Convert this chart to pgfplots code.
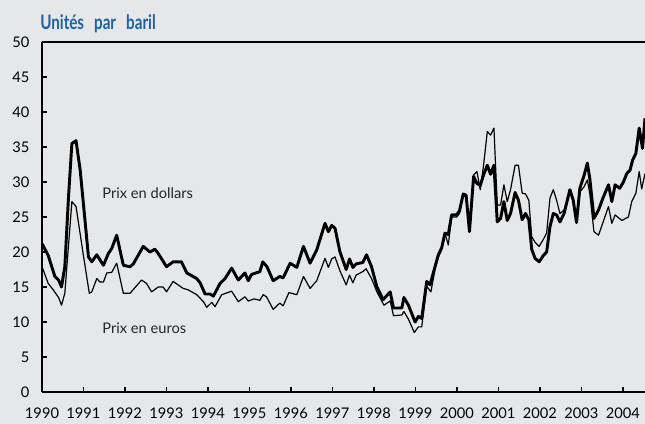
\documentclass[border=0pt]{standalone}
\usepackage{fontspec}
\setmainfont{Lato}
\newfontfamily\titlefont[FakeStretch=0.76]{Lato}
\usepackage{pgfplots}
\pgfplotsset{compat=1.18}
\definecolor{bg}{RGB}{230,231,233}
\definecolor{titleblue}{RGB}{30,98,165}
\begin{document}
\begin{tikzpicture}
\fill[bg] (-31.5pt,-24pt) rectangle (452.25pt,294pt);
\begin{axis}[
  name=ax,
  at={(0,0)}, anchor=south west,
  scale only axis, width=452.25pt, height=262.5pt,
  xmin=1990, xmax=2004.53, ymin=0, ymax=50,
  axis x line*=bottom, axis y line*=left,
  axis line style={line width=1.5pt,-},
  xtick={1990,...,2004}, ytick={0,5,...,50},
  xticklabel style={/pgf/number format/1000 sep={}, yshift=-8pt},
  yticklabel style={xshift=-6pt},
  /pgf/number format/assume math mode=true,
  tick style={black, line width=1pt},
  major tick length=4pt,
  tick align=inside,
  ticklabel style={font=\fontsize{11}{13}\selectfont},
  clip mode=individual,
]
\addplot[black, line width=2.2pt, line join=round] coordinates {
(1990.00,21.2)(1990.15,19.5)(1990.31,16.5)(1990.40,16.0)(1990.47,15.0)(1990.55,17.9)(1990.64,28.0)(1990.72,35.5)(1990.82,35.9)(1990.92,31.7)
(1991.12,19.3)(1991.20,18.6)(1991.32,19.6)(1991.48,18.1)(1991.60,19.8)(1991.68,20.5)(1991.80,22.4)(1991.96,18.1)
(1992.12,17.9)(1992.20,18.3)(1992.44,20.8)(1992.60,20.0)(1992.72,20.4)(1992.80,19.8)
(1993.00,17.9)(1993.16,18.6)(1993.36,18.6)(1993.49,17.0)(1993.73,16.2)(1993.81,15.6)(1993.93,14.0)
(1994.05,14.0)(1994.13,13.7)(1994.29,15.5)(1994.41,16.2)(1994.57,17.7)(1994.73,16.0)(1994.89,17.0)(1994.97,15.9)
(1995.05,16.8)(1995.25,17.2)(1995.32,18.6)(1995.42,17.9)(1995.57,15.9)(1995.73,16.5)(1995.81,16.3)(1995.98,18.4)
(1996.14,17.8)(1996.30,20.8)(1996.46,18.4)(1996.62,20.3)(1996.72,22.2)(1996.82,24.1)(1996.90,22.9)(1996.98,23.8)
(1997.06,23.4)(1997.18,20.0)(1997.33,17.5)(1997.41,19.0)(1997.49,17.8)(1997.57,18.3)(1997.73,18.5)(1997.82,19.6)(1997.94,17.9)
(1998.07,15.0)(1998.22,13.2)(1998.39,14.3)(1998.47,12.0)(1998.67,12.0)(1998.72,13.5)(1998.83,12.4)(1998.99,10.0)
(1999.07,10.8)(1999.15,10.5)(1999.27,15.8)(1999.35,15.3)(1999.47,17.9)(1999.55,19.6)(1999.63,20.6)(1999.71,22.7)(1999.79,22.5)(1999.87,25.3)(1999.99,25.3)
(2000.06,25.9)(2000.15,28.3)(2000.22,28.1)(2000.30,22.9)(2000.40,30.8)(2000.48,29.8)(2000.56,29.5)(2000.64,31.0)(2000.73,32.4)(2000.81,31.1)(2000.89,32.4)(2000.97,24.3)
(2001.05,24.8)(2001.13,27.2)(2001.21,24.5)(2001.29,25.5)(2001.40,28.5)(2001.48,27.4)(2001.57,24.6)(2001.65,25.5)(2001.73,24.6)(2001.80,20.4)(2001.88,19.1)(2001.98,18.6)
(2002.08,19.5)(2002.16,20.0)(2002.24,23.6)(2002.32,25.5)(2002.40,25.3)(2002.48,24.3)(2002.58,25.5)(2002.72,28.9)(2002.80,27.4)(2002.88,24.2)(2002.96,29.1)
(2003.06,30.9)(2003.14,32.7)(2003.20,30.5)(2003.30,24.8)(2003.41,26.0)(2003.51,27.6)(2003.65,29.6)(2003.73,27.2)(2003.81,29.6)(2003.92,29.1)
(2004.01,30.0)(2004.09,31.2)(2004.17,31.7)(2004.23,33.1)(2004.31,34.1)(2004.39,37.7)(2004.47,34.8)(2004.53,39.1)
};
\addplot[black, line width=0.9pt, line join=round] coordinates {
(1990.00,17.9)(1990.15,15.5)(1990.27,14.6)(1990.40,13.5)(1990.47,12.4)(1990.55,14.1)(1990.72,27.2)(1990.82,26.5)(1990.99,19.8)
(1991.14,14.1)(1991.20,14.3)(1991.32,16.2)(1991.40,15.7)(1991.48,15.7)(1991.56,17.0)(1991.68,17.1)(1991.80,18.4)(1991.96,14.1)
(1992.12,14.1)(1992.40,16.0)(1992.52,15.5)(1992.64,14.3)(1992.80,15.0)(1992.92,15.0)
(1993.00,14.3)(1993.16,15.8)(1993.40,14.8)(1993.52,14.6)(1993.73,13.9)(1993.89,12.9)(1993.97,12.1)
(1994.09,12.8)(1994.17,12.2)(1994.33,13.9)(1994.57,14.4)(1994.73,12.9)(1994.89,13.6)(1994.97,13.0)
(1995.11,13.3)(1995.25,13.1)(1995.33,13.9)(1995.41,13.6)(1995.57,11.8)(1995.73,12.7)(1995.81,12.3)(1995.95,14.2)
(1996.14,13.9)(1996.30,16.5)(1996.46,14.8)(1996.62,15.9)(1996.82,19.1)(1996.90,17.8)(1996.98,19.0)
(1997.06,19.3)(1997.18,17.3)(1997.33,15.3)(1997.41,16.7)(1997.49,15.6)(1997.57,16.7)(1997.73,17.2)(1997.81,17.6)(1997.94,16.2)
(1998.07,14.3)(1998.24,12.4)(1998.39,13.0)(1998.47,10.9)(1998.67,11.0)(1998.72,11.5)(1998.83,10.4)(1998.97,8.5)
(1999.07,9.3)(1999.15,9.3)(1999.27,15.1)(1999.37,14.3)(1999.47,17.5)(1999.55,19.3)(1999.63,20.3)(1999.71,22.7)(1999.79,21.0)(1999.87,25.0)(1999.99,25.0)
(2000.06,25.5)(2000.15,28.3)(2000.22,27.7)(2000.30,23.0)(2000.40,31.0)(2000.48,31.5)(2000.56,28.9)(2000.64,32.4)(2000.73,37.2)(2000.81,36.7)(2000.89,37.7)(2000.97,26.7)
(2001.05,26.7)(2001.13,29.6)(2001.21,27.2)(2001.29,28.9)(2001.40,32.4)(2001.48,32.4)(2001.57,28.4)(2001.65,28.3)(2001.73,27.4)(2001.80,22.2)(2001.88,21.4)(2001.98,20.8)
(2002.08,21.8)(2002.16,22.7)(2002.24,27.7)(2002.32,28.9)(2002.40,27.4)(2002.48,25.5)(2002.58,26.0)(2002.72,28.6)(2002.80,27.4)(2002.88,24.3)(2002.96,28.6)
(2003.06,29.3)(2003.14,30.3)(2003.20,28.3)(2003.30,22.9)(2003.41,22.4)(2003.51,24.1)(2003.65,26.5)(2003.73,24.1)(2003.81,25.3)(2003.97,24.5)
(2004.13,25.0)(2004.21,27.2)(2004.31,28.4)(2004.39,31.5)(2004.45,29.0)(2004.53,31.2)
};
\node[anchor=west, font=\fontsize{11}{13}\selectfont, text=black!85] at (axis cs:1991.34,28.4) {Prix en dollars};
\node[anchor=west, font=\fontsize{11}{13}\selectfont, text=black!85] at (axis cs:1991.34,9.1) {Prix en euros};
\end{axis}
\draw[black, line width=1.2pt] (ax.north west) -- (ax.north east);
\node[anchor=base west, inner sep=0pt, font=\titlefont\bfseries\fontsize{15}{17}\selectfont, text=titleblue] at ([xshift=-1.5pt,yshift=9pt]ax.north west) {Unités\hspace{0.5em}par\hspace{0.5em}baril};
\pgfresetboundingbox
\path[use as bounding box] (-31.5pt,-24pt) rectangle (452.25pt,294pt);
\end{tikzpicture}
\end{document}
